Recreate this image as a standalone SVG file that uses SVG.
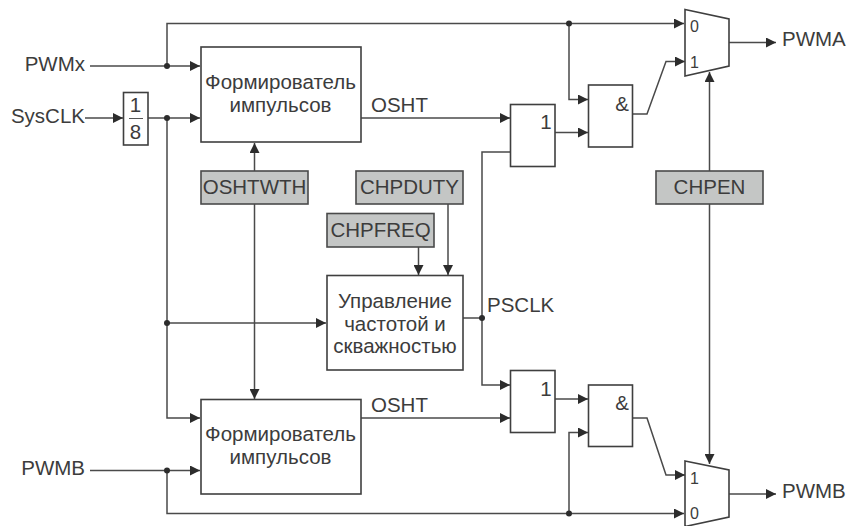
<svg xmlns="http://www.w3.org/2000/svg" width="847" height="526" viewBox="0 0 847 526">
<style>
text{font-family:"Liberation Sans",Arial,sans-serif;font-size:20.5px;fill:#3c3c3c}
.m{text-anchor:middle}
.e{text-anchor:end}
.s{font-size:16px}
.b{fill:#fff;stroke:#3f3f3f;stroke-width:1.6}
.g{fill:#c4c6c5;stroke:#4a4a4a;stroke-width:1.6}
.c path{fill:none;stroke:#4a4a4a;stroke-width:1.5}
.c circle{fill:#2c2c2c}
</style>
<defs>
<marker id="a" markerUnits="userSpaceOnUse" viewBox="0 0 10 10" refX="10" refY="5" markerWidth="10" markerHeight="10" orient="auto-start-reverse"><path d="M0 0L10 5L0 10z" fill="#2c2c2c"/></marker>
</defs>
<g id="connectors" class="c">
<path d="M90 66H200" marker-end="url(#a)"/>
<path d="M167 66V23.500H684" marker-end="url(#a)"/>
<path d="M85 118H123" marker-end="url(#a)"/>
<path d="M148 118H200" marker-end="url(#a)"/>
<path d="M167 118V418H200" marker-end="url(#a)"/>
<path d="M167 323H326" marker-end="url(#a)"/>
<path d="M90 470.500H200" marker-end="url(#a)"/>
<path d="M167 470.500V513.500H684" marker-end="url(#a)"/>
<path d="M254.500 143V171" marker-start="url(#a)"/>
<path d="M254.500 204V399" marker-end="url(#a)"/>
<path d="M418.500 247V275" marker-end="url(#a)"/>
<path d="M448 204V275" marker-end="url(#a)"/>
<path d="M361 118H510" marker-end="url(#a)"/>
<path d="M361 418H510" marker-end="url(#a)"/>
<path d="M463 318H482"/>
<path d="M510 152H482V385H510" marker-end="url(#a)"/>
<path d="M555 132.500H588" marker-end="url(#a)"/>
<path d="M555 399H588" marker-end="url(#a)"/>
<path d="M569 23.500V99.500H588" marker-end="url(#a)"/>
<path d="M569 513.500V432.500H588" marker-end="url(#a)"/>
<path d="M632 114H647L666 61.500H685" marker-end="url(#a)"/>
<path d="M632 418H647L666 475H685" marker-end="url(#a)"/>
<path d="M729 42.500H776" marker-end="url(#a)"/>
<path d="M729 494H776" marker-end="url(#a)"/>
<path d="M709.500 72V171" marker-start="url(#a)"/>
<path d="M709.500 204V464" marker-end="url(#a)"/>
<circle cx="167" cy="66" r="3"/>
<circle cx="167" cy="118" r="3"/>
<circle cx="167" cy="323" r="3"/>
<circle cx="167" cy="470.500" r="3"/>
<circle cx="482" cy="318" r="3"/>
<circle cx="569" cy="23.500" r="3"/>
<circle cx="569" cy="513.500" r="3"/>
</g>
<g id="div"><rect class="b" x="123.500" y="92.500" width="24.500" height="52.500"/><path d="M129 118.500H143" stroke="#555" stroke-width="1"/><text class="m" x="135.500" y="112">1</text><text class="m" x="135.500" y="139">8</text></g>
<g id="shaper-a"><rect class="b" x="201" y="47" width="160" height="95"/><text class="m" x="280.500" y="89">Формирователь</text><text class="m" x="280.500" y="112">импульсов</text></g>
<g id="shaper-b"><rect class="b" x="201" y="399.500" width="160" height="94.500"/><text class="m" x="280.500" y="441">Формирователь</text><text class="m" x="280.500" y="464">импульсов</text></g>
<g id="oshtwth"><rect class="g" x="201" y="171" width="107" height="33"/><text class="m" x="254.500" y="194">OSHTWTH</text></g>
<g id="chpduty"><rect class="g" x="356" y="171" width="107" height="33"/><text class="m" x="409.500" y="194">CHPDUTY</text></g>
<g id="chpfreq"><rect class="g" x="327" y="213.500" width="107" height="33.500"/><text class="m" x="380.500" y="237">CHPFREQ</text></g>
<g id="chpen"><rect class="g" x="656" y="171" width="107" height="33"/><text class="m" x="709.500" y="194">CHPEN</text></g>
<g id="control"><rect class="b" x="327" y="275.500" width="136" height="94.500"/><text class="m" x="395" y="308">Управление</text><text class="m" x="395" y="331">частотой и</text><text class="m" x="395" y="353">скважностью</text></g>
<g id="or-a"><rect class="b" x="510.500" y="104.500" width="44.500" height="62"/><text class="m" x="546" y="129">1</text></g>
<g id="or-b"><rect class="b" x="510.500" y="370.500" width="44.500" height="62"/><text class="m" x="546" y="396">1</text></g>
<g id="and-a"><rect class="b" x="588.500" y="85" width="44" height="62"/><text class="m" x="622" y="111">&amp;</text></g>
<g id="and-b"><rect class="b" x="588.500" y="385" width="44" height="61.500"/><text class="m" x="622" y="410">&amp;</text></g>
<g id="mux-a"><path class="b" d="M685 9.500L729 19V66L685 76Z"/><text class="s" x="690" y="32">0</text><text class="s" x="690" y="68">1</text></g>
<g id="mux-b"><path class="b" d="M685 461L729 470V517L685 526.500Z"/><text class="s" x="690" y="484">1</text><text class="s" x="690" y="519">0</text></g>
<g id="labels">
<text class="e" x="85" y="71">PWMx</text>
<text class="e" x="85" y="123">SysCLK</text>
<text class="e" x="85" y="475">PWMB</text>
<text x="371" y="112">OSHT</text>
<text x="371" y="412">OSHT</text>
<text x="487" y="312">PSCLK</text>
<text x="782" y="46">PWMA</text>
<text x="782" y="498">PWMB</text>
</g>
</svg>
